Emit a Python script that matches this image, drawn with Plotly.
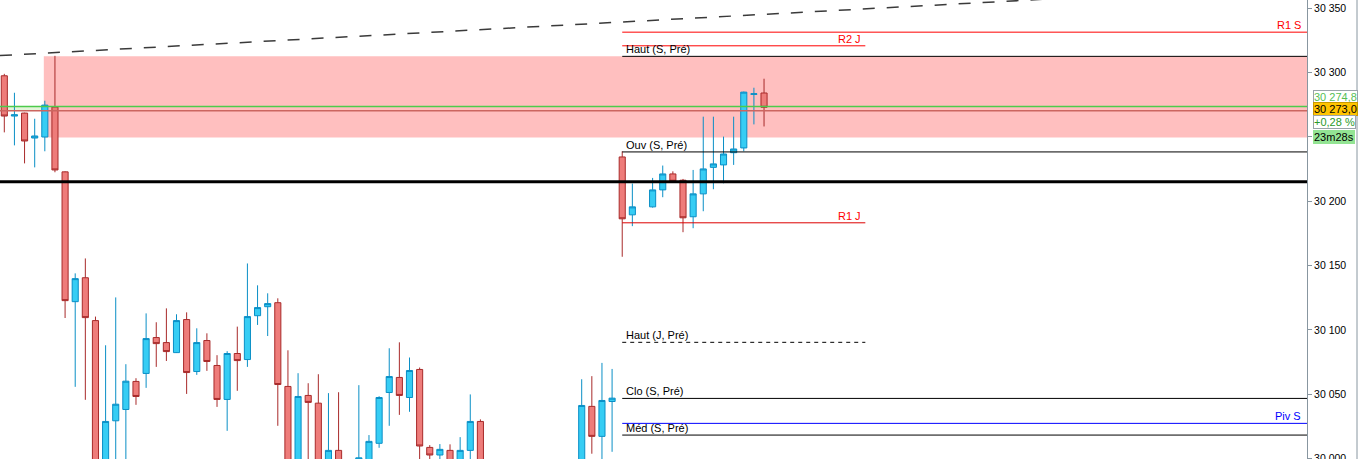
import plotly.graph_objects as go

# ---------------- data ----------------
idx = list(range(0, 63)) + list(range(64, 76))

opens = [30297.5, 30266.2, 30268.5, 30249.1, 30249.9, 30273.2, 30222.8, 30121.9, 30140.5, 30107.2,
         29990.0, 30029.3, 30038.1, 30059.9, 30066.1, 30094.0, 30090.1, 30082.3, 30108.0, 30067.6,
         30091.7, 30072.3, 30045.9, 30081.6, 30076.9, 30111.0, 30118.0, 30121.1, 30056.0, 29990.0,
         30049.0, 30043.0, 29990.0, 30006.3, 29992.0, 29992.0, 29999.0, 30011.8, 30051.3, 30063.0,
         30047.4, 30069.2, 30008.6, 30002.7, 30006.3, 29995.0, 30006.3, 30028.8, 29990.0, 29968.0,
         29980.0, 29962.0, 29948.0, 29965.0, 29976.0, 29968.0, 29984.0, 29993.0, 30040.5, 30017.2,
         30044.3, 30234.4, 30189.4,
         30195.6, 30208.8, 30221.2, 30216.3, 30187.9, 30205.7, 30226.3, 30228.2, 30237.7, 30241.4,
         30283.0, 30284.1]
highs = [30299.0, 30284.3, 30268.8, 30264.1, 30278.1, 30313.0, 30223.2, 30143.9, 30155.5, 30110.3,
         30088.0, 30125.2, 30073.3, 30062.4, 30112.8, 30105.9, 30116.7, 30112.1, 30113.6, 30101.2,
         30097.3, 30080.3, 30083.4, 30102.5, 30151.6, 30134.6, 30128.4, 30124.5, 30084.1, 30066.3,
         30058.5, 30065.5, 30050.8, 30051.5, 29998.0, 30057.0, 30018.2, 30048.4, 30085.7, 30090.3,
         30078.5, 30070.7, 30010.4, 30011.2, 30011.0, 30016.6, 30049.8, 30030.4, 29994.0, 29985.0,
         29992.0, 29975.0, 29970.0, 29982.0, 29990.0, 29988.0, 29996.0, 30061.6, 30064.0, 30074.3,
         30069.6, 30238.8, 30213.7,
         30218.1, 30227.7, 30223.2, 30217.3, 30224.3, 30265.7, 30265.7, 30250.2, 30265.7, 30285.2,
         30288.2, 30295.2]
lows = [30253.5, 30243.4, 30229.4, 30226.3, 30238.8, 30222.5, 30109.2, 30055.7, 30045.6, 29970.0,
        29980.0, 29995.0, 29995.0, 30041.7, 30054.9, 30071.2, 30075.8, 30082.0, 30050.2, 30065.0,
        30068.1, 30040.1, 30021.5, 30052.6, 30071.2, 30103.8, 30095.2, 30025.4, 29975.0, 29980.0,
        29995.0, 29975.0, 29980.0, 29980.0, 29960.0, 29980.0, 29990.0, 30008.3, 30025.4, 30033.9,
        30036.3, 29995.0, 29996.0, 29997.0, 29988.0, 29988.0, 29998.0, 29985.0, 29962.0, 29955.0,
        29958.0, 29940.0, 29942.0, 29955.0, 29960.0, 29962.0, 29975.0, 29988.0, 30003.7, 29998.0,
        30005.2, 30156.8, 30180.6,
        30195.0, 30203.1, 30214.2, 30175.9, 30179.0, 30192.2, 30209.3, 30213.9, 30228.2, 30238.8,
        30259.7, 30258.1]
closes = [30266.2, 30267.2, 30246.8, 30250.7, 30274.7, 30224.3, 30122.7, 30139.8, 30109.5, 29985.0,
          30028.8, 30042.2, 30060.1, 30048.2, 30093.2, 30089.3, 30083.1, 30107.2, 30066.8, 30090.1,
          30075.4, 30045.9, 30081.6, 30076.1, 30110.3, 30117.3, 30120.4, 30057.5, 29985.0, 30048.2,
          30043.6, 29985.0, 30006.3, 29990.0, 29970.0, 30000.5, 30013.3, 30047.4, 30063.7, 30049.0,
          30068.4, 30009.7, 30002.7, 30007.1, 29995.0, 30006.3, 30028.8, 29990.0, 29968.0, 29980.0,
          29962.0, 29948.0, 29965.0, 29976.0, 29968.0, 29984.0, 29993.0, 30041.2, 30017.2, 30045.1,
          30046.9, 30186.3, 30195.6,
          30208.8, 30221.2, 30215.5, 30187.1, 30205.7, 30225.1, 30229.0, 30236.7, 30240.6, 30284.8,
          30283.5, 30273.0]

# levels
session_start = 61
day_end = 85
zone_start = 3.9
zone_top = 30312.6
zone_bottom = 30249.5
r1_s = 30331.4
r2_j = 30320.8
haut_s = 30312.6
green_level = 30273.7
price_line = 30270.3
ouv_s = 30238.3
thick_level = 30215.2
r1_j = 30183.2
haut_j = 30090.3
clo_s = 30046.7
piv_s = 30027.3
med_s = 30018.2
trend_x = [-0.425, 105.0]
trend_y = [30313.2, 30358.0]

tags = ["30 274,8", "30 273,0", "+0,28 %", "23m28s"]
tag_y = [30281.0, 30272.0, 30261.3, 30249.6]

# ---------------- figure ----------------
W, H = 1359, 459
plot_w = 1307
fig = go.Figure()
fig.add_trace(go.Candlestick(
    x=idx, open=opens, high=highs, low=lows, close=closes,
    increasing=dict(fillcolor="#36CDF4", line=dict(color="#0A8FC6", width=1)),
    decreasing=dict(fillcolor="#EE7C7A", line=dict(color="#A82A2A", width=1)),
    whiskerwidth=0, hoverinfo="skip", showlegend=False,
))

shapes = []
# zone (below candles)
shapes.append(dict(type="rect", xref="x", yref="y", x0=zone_start, x1=200, y0=zone_bottom, y1=zone_top,
                   fillcolor="rgb(255,191,191)", line=dict(width=0), layer="below"))
# tan band between green & price line
shapes.append(dict(type="rect", xref="paper", yref="y", x0=0, x1=1, y0=price_line, y1=green_level,
                   fillcolor="rgba(170,225,140,0.33)", line=dict(width=0), layer="below"))


def hline(y, x0, x1, color, width=1, dash=None, xref="x", layer="above"):
    d = dict(type="line", xref=xref, yref="y", x0=x0, x1=x1, y0=y, y1=y,
             line=dict(color=color, width=width), layer=layer)
    if dash:
        d["line"]["dash"] = dash
    shapes.append(d)


hline(green_level, 0, 1, "#4CCB4C", 1.5, xref="paper")
hline(price_line, 0, 1, "#CC6660", 1.5, xref="paper")
hline(r1_s, session_start, 200, "#FF0000")
hline(r2_j, session_start, day_end, "#FF0000")
hline(haut_s, session_start, 200, "#000000")
hline(ouv_s, session_start, 200, "#000000")
hline(thick_level, 0, 1, "#000000", 3, xref="paper")
hline(r1_j, session_start, day_end, "#DD0000")
hline(haut_j, session_start, day_end, "#000000", 1, dash="4px,4px")
hline(clo_s, session_start, 200, "#000000")
hline(piv_s, session_start, 200, "#0000FF")
hline(med_s, session_start, 200, "#000000")
# trend line
shapes.append(dict(type="line", xref="x", yref="y", x0=trend_x[0], x1=trend_x[1], y0=trend_y[0], y1=trend_y[1],
                   line=dict(color="#3A3A3A", width=1.5, dash="12px,12px")))
# right frame border
shapes.append(dict(type="line", xref="paper", yref="paper", x0=1357 / plot_w, x1=1357 / plot_w, y0=0, y1=1,
                   line=dict(color="#8896A0", width=1)))

ann = []


def label(text, x, y, anchor, color="#000000", xref="x", xshift=0):
    ann.append(dict(text=text, x=x, y=y, xref=xref, yref="y", xanchor=anchor, yanchor="bottom",
                    showarrow=False, xshift=xshift, yshift=-1,
                    font=dict(family="Liberation Sans, Arial", size=11, color=color)))


label("Haut (S, Pré)", session_start, haut_s, "left", xshift=2)
label("Ouv (S, Pré)", session_start, ouv_s, "left", xshift=2)
label("Haut (J, Pré)", session_start, haut_j, "left", xshift=2)
label("Clo (S, Pré)", session_start, clo_s, "left", xshift=2)
label("Méd (S, Pré)", session_start, med_s, "left", xshift=2)
label("R2 J", day_end, r2_j, "right", color="#FF0000", xshift=-2)
label("R1 J", day_end, r1_j, "right", color="#FF0000", xshift=-2)
label("R1 S", 1, r1_s, "right", color="#FF0000", xref="paper", xshift=-4)
label("Piv S", 1, piv_s, "right", color="#0000FF", xref="paper", xshift=-4)

tag_styles = [
    dict(bg="#FFFFFF", border="#9AA4AA", color="#55C055"),
    dict(bg="#FFC400", border="#C89A00", color="#000000"),
    dict(bg="#FFFFFF", border="#9AA4AA", color="#2A9A2A"),
    dict(bg="#93E493", border="#93E493", color="#000000"),
]
for t, yv, st in zip(tags, tag_y, tag_styles):
    ann.append(dict(text=t, x=1313 / plot_w, y=yv, xref="paper", yref="y", xanchor="left", yanchor="middle",
                    showarrow=False, bgcolor=st["bg"], bordercolor=st["border"], borderwidth=1, borderpad=0,
                    font=dict(family="Liberation Sans, Arial", size=11, color=st["color"])))

fig.update_layout(
    width=W, height=H,
    margin=dict(l=0, r=W - plot_w, t=0, b=0, autoexpand=False),
    paper_bgcolor="white", plot_bgcolor="white",
    separators=", ",
    boxgap=0.14,
    shapes=shapes, annotations=ann,
    showlegend=False, hovermode=False,
    xaxis=dict(range=[-0.425, 128.6], visible=False, rangeslider=dict(visible=False), fixedrange=True),
    yaxis=dict(range=[29999.6, 30356.4], side="right", dtick=50, tick0=30000, tickformat=",d",
               showgrid=False, zeroline=False, showline=True, linecolor="#8896A0", linewidth=1,
               ticks="outside", ticklen=4, tickcolor="#8896A0", automargin=False,
               ticklabeloverflow="allow",
               tickfont=dict(family="Liberation Sans, Arial", size=10.5, color="#000000")),
)
fig.write_html("out.html", config={"displayModeBar": False},
               post_script="document.body.style.margin='0';document.body.style.overflow='hidden';")
